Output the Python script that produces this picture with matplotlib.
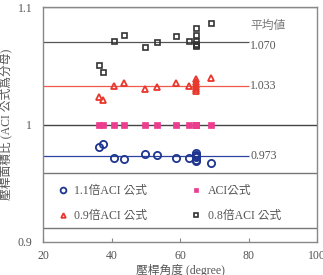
import matplotlib
matplotlib.use('Agg')
import matplotlib.pyplot as plt

plt.rcParams['font.family'] = ['Liberation Serif', 'Noto Sans CJK TC']
plt.rcParams['font.size'] = 8.5
plt.rcParams['text.color'] = '#555555'

# strut angle (degree) shared by all series
angle = [36.2, 37.5, 40.8, 43.5, 49.8, 53.3, 58.8, 62.5,
         64.7, 64.7, 64.7, 64.7, 64.7, 64.7, 69.1]
ratio_11 = [0.981, 0.9835, 0.9718, 0.9707, 0.975, 0.9738, 0.971, 0.9715,
            0.9758, 0.9744, 0.9732, 0.972, 0.970, 0.9686, 0.9673]
ratio_10 = [1.0] * 15
ratio_09 = [1.0233, 1.0205, 1.0325, 1.035, 1.0305, 1.032, 1.035, 1.0328,
            1.0385, 1.036, 1.034, 1.032, 1.030, 1.029, 1.0396]
ratio_08 = [1.0504, 1.045, 1.0712, 1.076, 1.066, 1.070, 1.0758, 1.071,
            1.082, 1.076, 1.071, 1.069, 1.068, 1.067, 1.0866]
means = [1.070, 1.033, 0.973]
mean_colors = ['#555555', '#f05a4a', '#2b44a0']

fig = plt.figure(figsize=(3.23, 2.75), dpi=100)
ax = fig.add_axes([0.134, 0.121, 0.848, 0.8525])
ax.set_xlim(20, 100)
ax.set_ylim(0.9, 1.1)

# grid-ish lines
ax.axhline(1.0, color='#444444', lw=1.0, zorder=1)
ax.axhline(1.1, color='#888888', lw=1.0, zorder=1)
# legend box lines
ax.axhline(0.959, color='#777777', lw=1.0, zorder=1)
ax.axhline(0.912, color='#777777', lw=1.0, zorder=1)

for m, c in zip(means, mean_colors):
    ax.hlines(m, 20, 80, color=c, lw=0.9, zorder=1)
    ax.text(80.5, m - (0.003 if m > 1.05 else 0), f'{m:.3f}', ha='left', va='center',
            fontsize=8.5, color='#555555')
ax.text(80.5, 1.084, '平均値', ha='left', va='center', fontsize=8.5, color='#777777')

h1, = ax.plot(angle, ratio_11, 'o', ms=5.2, mfc='none', mec='#1f3590', mew=1.3,
              label='1.1倍ACI 公式', zorder=3)
h2, = ax.plot(angle, ratio_10, 's', ms=4, mfc='#ec3d8e', mec='#ec3d8e', mew=0.5,
              label='ACI公式', zorder=3)
h3, = ax.plot(angle, ratio_09, '^', ms=4.2, mfc='none', mec='#e8372c', mew=1.3,
              label='0.9倍ACI 公式', zorder=3)
h4, = ax.plot(angle, ratio_08, 's', ms=3.6, mfc='none', mec='#333333', mew=1.2,
              label='0.8倍ACI 公式', zorder=3)

leg = ax.legend(handles=[h1, h3, h2, h4], ncol=2, frameon=False,
                loc='center left', bbox_to_anchor=(0.01, 0.164),
                handlelength=1.0, handletextpad=0.5, columnspacing=3.6,
                labelspacing=1.1, markerscale=0.8, fontsize=8.5)
for t in leg.get_texts():
    t.set_color('#555555')

for s in ax.spines.values():
    s.set_color('#888888')
    s.set_linewidth(1.0)

ax.set_xticks([20, 40, 60, 80, 100])
ax.set_yticks([0.9, 1.0, 1.1])
ax.set_yticklabels(['0.9', '1', '1.1'])
ax.tick_params(axis='x', direction='in', length=3, color='#888888',
               labelcolor='#555555', pad=6, labelsize=8.5)
ax.tick_params(axis='y', length=0, labelcolor='#555555', pad=8, labelsize=8.5)

ax.set_xlabel('壓桿角度 (degree)', fontsize=8.5, color='#555555', labelpad=1)
ax.set_ylabel('壓桿面積比 (ACI 公式爲分母)', fontsize=8.5, color='#555555', labelpad=4)

fig.savefig('out.png', dpi=100)
